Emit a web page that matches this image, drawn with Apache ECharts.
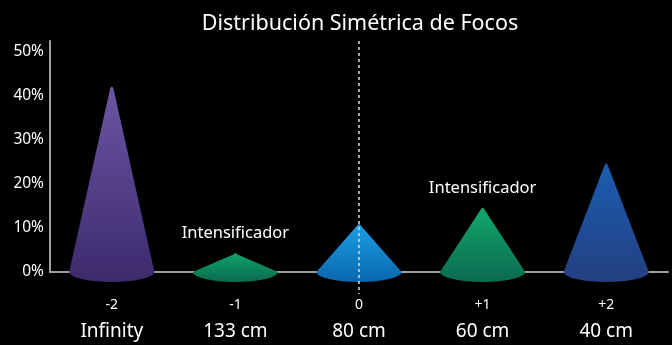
<!DOCTYPE html>
<html>
<head>
<meta charset="utf-8">
<script src="https://cdn.jsdelivr.net/npm/echarts@6/dist/echarts.min.js"></script>
<style>
  html, body { margin: 0; padding: 0; background: #000; }
  #chart { width: 672px; height: 345px; }
</style>
</head>
<body>
<div id="chart"></div>
<script>
// Datos del gráfico
const steps = ['-2', '-1', '0', '+1', '+2'];
const distances = ['Infinity', '133 cm', '80 cm', '60 cm', '40 cm'];
const values = [42.3, 4.5, 11.1, 14.8, 24.8];
const notes = ['', 'Intensificador', '', 'Intensificador', ''];
const yTicks = [0, 10, 20, 30, 40, 50];

// Colores de los conos (arriba, abajo)
const coneColors = [
    ['#6b56a3', '#3c2a6c'],
    ['#10a36c', '#0b6a4f'],
    ['#1a9fe6', '#0b67ad'],
    ['#10a86c', '#0b6a50'],
    ['#1a5db2', '#243f80']
];

const FONT = 'Noto Sans';
const chart = echarts.init(document.getElementById('chart'));

function renderCone(params, api) {
    const idx = api.value(0);
    const top = api.coord([idx, api.value(1)]);
    const base = api.coord([idx, 0]);
    const band = api.size([1, 0])[0];
    const rx = band * 0.345;
    const ry = 10;
    const c = coneColors[idx];
    // punta ligeramente redondeada
    const path = 'M ' + (top[0] - 1.5) + ' ' + (top[1] + 2) +
        ' Q ' + top[0] + ' ' + (top[1] - 1) + ' ' + (top[0] + 1.5) + ' ' + (top[1] + 2) +
        ' L ' + (base[0] + rx) + ' ' + base[1] +
        ' A ' + rx + ' ' + ry + ' 0 0 1 ' + (base[0] - rx) + ' ' + base[1] + ' Z';
    const children = [{
        type: 'path',
        shape: {pathData: path},
        style: {
            fill: new echarts.graphic.LinearGradient(0, 0, 0, 1, [
                {offset: 0, color: c[0]},
                {offset: 1, color: c[1]}
            ])
        }
    }];
    const note = notes[idx];
    if (note) {
        children.push({
            type: 'text',
            style: {
                text: note,
                x: top[0],
                y: top[1] - 10,
                fill: '#fff',
                font: '16.5px "' + FONT + '"',
                align: 'center',
                verticalAlign: 'bottom'
            }
        });
    }
    return {type: 'group', children: children};
}

function renderGuide(params, api) {
    const idx = api.value(0);
    const p1 = api.coord([idx, 52.5]);
    const p2 = api.coord([idx, 0]);
    return {
        type: 'line',
        shape: {x1: p1[0], y1: p1[1], x2: p2[0], y2: p2[1] + 22},
        style: {stroke: '#ddd', lineWidth: 1.5, lineDash: [3, 3]},
        z2: 10
    };
}

const option = {
    backgroundColor: '#000',
    animation: false,
    title: {
        text: 'Distribución Simétrica de Focos',
        left: 355,
        textAlign: 'center',
        top: 8,
        textStyle: {color: '#fff', fontSize: 21.5, fontWeight: 'normal', fontFamily: FONT}
    },
    grid: {left: 50, right: 4, top: 41, bottom: 73},
    xAxis: {
        type: 'category',
        data: steps,
        axisLine: {lineStyle: {color: '#a0a0a0', width: 2}},
        axisTick: {show: false},
        axisLabel: {
            margin: 19,
            formatter: (v, i) => '{a|' + v + '}\n{b|' + distances[i] + '}',
            rich: {
                a: {color: '#fff', fontSize: 14, fontFamily: FONT, lineHeight: 28},
                b: {color: '#fff', fontSize: 19, fontFamily: FONT, lineHeight: 26}
            }
        }
    },
    yAxis: {
        type: 'value',
        min: 0,
        max: 52.5,
        interval: 10,
        axisLine: {show: true, lineStyle: {color: '#a0a0a0', width: 2}},
        axisTick: {show: false},
        splitLine: {show: false},
        axisLabel: {
            color: '#fff',
            fontSize: 15.5,
            fontFamily: FONT,
            margin: 6,
            showMaxLabel: false,
            formatter: v => yTicks.indexOf(v) >= 0 ? v + '%' : ''
        }
    },
    series: [
        {
            type: 'custom',
            renderItem: renderCone,
            data: values.map((v, i) => [i, v]),
            z: 2
        },
        {
            type: 'custom',
            renderItem: renderGuide,
            data: [[2, 0]],
            z: 3
        }
    ]
};
chart.setOption(option);
</script>
</body>
</html>
